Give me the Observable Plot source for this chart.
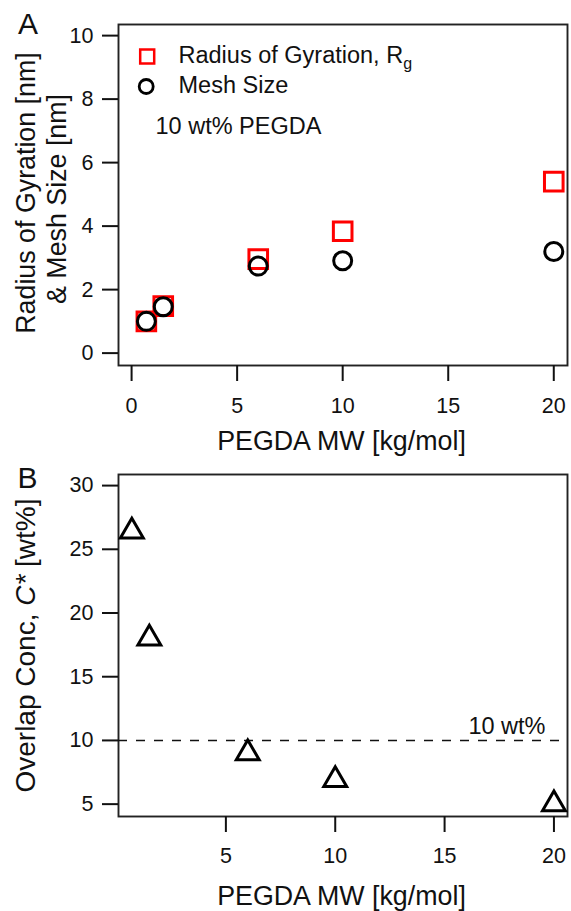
<!DOCTYPE html>
<html>
<head>
<meta charset="utf-8">
<script src="https://cdn.jsdelivr.net/npm/d3@7"></script>
<script src="https://cdn.jsdelivr.net/npm/@observablehq/plot@0.6"></script>
<style>
  body { margin: 0; background: #fff; }
  #chart svg { display: block; }
</style>
</head>
<body>
<div id="chart"></div>
<script>
// PEGDA molecular weight, kg/mol
const mw = [0.7, 1.5, 6, 10, 20];
// Radius of gyration Rg, nm
const rg = [1.0, 1.48, 2.96, 3.84, 5.4];
// Mesh size of 10 wt% PEGDA hydrogels, nm
const mesh = [1.0, 1.46, 2.74, 2.91, 3.2];
// Overlap concentration C*, wt%
const cstar = [26.4, 18.0, 9.0, 6.9, 5.0];
// Reference concentration used for the gels, wt%
const refConc = 10;

const xTicksA = [0, 5, 10, 15, 20];
const yTicksA = [0, 2, 4, 6, 8, 10];
const xTicksB = [5, 10, 15, 20];
const yTicksB = [5, 10, 15, 20, 25, 30];

const sizeRows = mw.map((m, i) => ({mw: m, rg: rg[i], mesh: mesh[i]}));
const concRows = mw.map((m, i) => ({mw: m, cstar: cstar[i]}));

const font = "'Liberation Sans', Arial, Helvetica, sans-serif";
const W = 571;
const RED = "#ff0000";
const TICK_FS = 21.5;
const LEG_FS = 23.5;
const baseStyle = {fontFamily: font, fontSize: "22px", background: "white", color: "#111", overflow: "visible"};

// Panel A: sizes vs molecular weight
const plotA = Plot.plot({
  width: W, height: 460,
  marginLeft: 118, marginRight: 4, marginTop: 24, marginBottom: 95,
  style: baseStyle,
  x: {domain: [-0.62, 20.65]},
  y: {domain: [-0.39, 10.35]},
  marks: [
    Plot.frame({stroke: "#222", strokeWidth: 1.9}),
    Plot.axisX({ticks: xTicksA, tickSize: 16, tickPadding: 16, fontSize: TICK_FS, strokeWidth: 2, label: null}),
    Plot.axisY({ticks: yTicksA, tickSize: 16, tickPadding: 9, fontSize: TICK_FS, strokeWidth: 2, label: null}),
    Plot.dot(sizeRows, {x: "mw", y: "rg", symbol: "square", r: 10.5, fill: "none", stroke: RED, strokeWidth: 3}),
    Plot.dot(sizeRows, {x: "mw", y: "mesh", symbol: "circle", r: 9, fill: "none", stroke: "black", strokeWidth: 3}),
    // legend
    Plot.dot([0], {frameAnchor: "top-left", dx: 28.7, dy: 32, symbol: "square", r: 7.9, fill: "none", stroke: RED, strokeWidth: 2.5}),
    Plot.dot([0], {frameAnchor: "top-left", dx: 27.7, dy: 62, symbol: "circle", r: 7, fill: "none", stroke: "black", strokeWidth: 2.8}),
    Plot.text(["Radius of Gyration, R"], {text: d => d, frameAnchor: "top-left", dx: 60, dy: 31, textAnchor: "start", lineAnchor: "middle", fontSize: LEG_FS}),
    Plot.text(["Mesh Size"], {text: d => d, frameAnchor: "top-left", dx: 60, dy: 61, textAnchor: "start", lineAnchor: "middle", fontSize: LEG_FS}),
    Plot.text(["10 wt% PEGDA"], {text: d => d, frameAnchor: "top-left", dx: 37, dy: 101.5, textAnchor: "start", lineAnchor: "middle", fontSize: LEG_FS}),
    // panel letter and axis titles
    Plot.text(["A"], {text: d => d, frameAnchor: "top-left", dx: -90.5, dy: 0, textAnchor: "middle", lineAnchor: "middle", fontSize: 30}),
    Plot.text(["PEGDA MW [kg/mol]"], {text: d => d, frameAnchor: "bottom", dx: -1.5, dy: 76, textAnchor: "middle", lineAnchor: "middle", fontSize: 26.8}),
    Plot.text(["Radius of Gyration [nm]"], {text: d => d, frameAnchor: "left", dx: -92, dy: -2, rotate: -90, textAnchor: "middle", lineAnchor: "middle", fontSize: 26.8}),
    Plot.text(["& Mesh Size [nm]"], {text: d => d, frameAnchor: "left", dx: -61.5, dy: 4, rotate: -90, textAnchor: "middle", lineAnchor: "middle", fontSize: 26.8})
  ]
});

// Panel B: overlap concentration vs molecular weight
const plotB = Plot.plot({
  width: W, height: 451,
  marginLeft: 118, marginRight: 4, marginTop: 14, marginBottom: 95,
  style: baseStyle,
  x: {domain: [0.09, 20.62]},
  y: {domain: [4.03, 30.87]},
  marks: [
    Plot.frame({stroke: "#222", strokeWidth: 1.9}),
    Plot.axisX({ticks: xTicksB, tickSize: 16, tickPadding: 15, fontSize: TICK_FS, strokeWidth: 2, label: null}),
    Plot.axisY({ticks: yTicksB, tickSize: 16, tickPadding: 9, fontSize: TICK_FS, strokeWidth: 2, label: null}),
    Plot.ruleY([refConc], {stroke: "#111", strokeWidth: 1.6, strokeDasharray: "9,9"}),
    Plot.text([refConc], {y: d => d, text: d => `${d} wt%`, frameAnchor: "right", textAnchor: "end", dx: -22, dy: -14, lineAnchor: "middle", fontSize: LEG_FS}),
    Plot.dot(concRows, {x: "mw", y: "cstar", symbol: "triangle", r: 8.5, fill: "none", stroke: "black", strokeWidth: 3}),
    Plot.text(["B"], {text: d => d, frameAnchor: "top-left", dx: -91, dy: 3.5, textAnchor: "middle", lineAnchor: "middle", fontSize: 30}),
    Plot.text(["PEGDA MW [kg/mol]"], {text: d => d, frameAnchor: "bottom", dx: -1.5, dy: 80, textAnchor: "middle", lineAnchor: "middle", fontSize: 26.8}),
    Plot.text(["Overlap Conc, C* [wt%]"], {text: d => d, frameAnchor: "left", dx: -92, rotate: -90, textAnchor: "middle", lineAnchor: "middle", fontSize: 28})
  ]
});

const findText = (svg, s) => d3.select(svg).selectAll("text").filter(function () { return this.textContent === s; });

// subscript g on the Rg legend entry
findText(plotA, "Radius of Gyration, R")
  .append("tspan").attr("font-size", 16).attr("dy", 6).text("g");

// italic C* in the panel B axis title
const yb = findText(plotB, "Overlap Conc, C* [wt%]");
yb.text(null);
yb.append("tspan").text("Overlap Conc, ");
yb.append("tspan").attr("font-style", "italic").text("C*");
yb.append("tspan").text(" [wt%]");

document.getElementById("chart").append(plotA, plotB);
</script>
</body>
</html>
